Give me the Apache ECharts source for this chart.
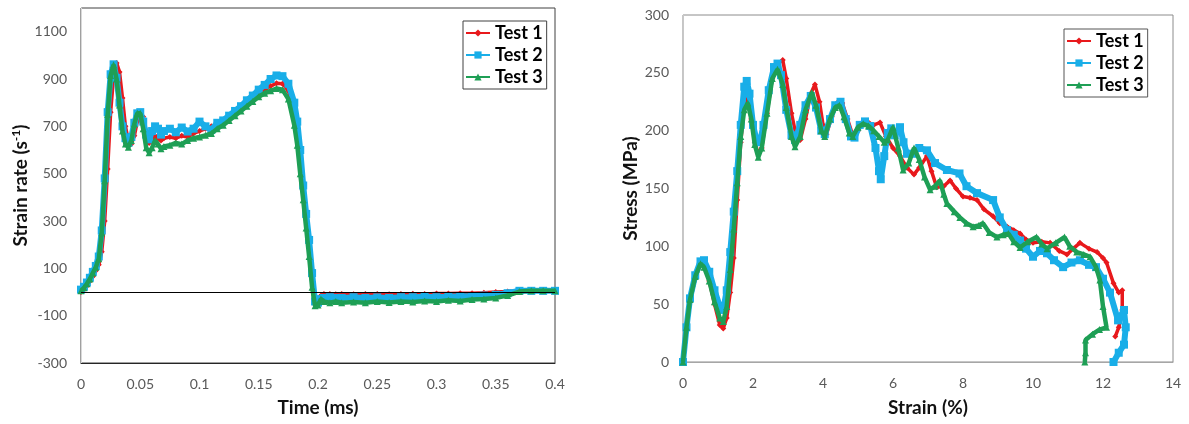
<!DOCTYPE html>
<html><head><meta charset="utf-8">
<script src="https://cdn.jsdelivr.net/npm/echarts@6/dist/echarts.min.js"></script>
<style>html,body{margin:0;padding:0;background:#fff}#c{width:1189px;height:424px}</style>
</head><body><div id="c"></div>
<script>
// ---- Left chart: strain rate vs time ----
const timeMs = [0,0.0025,0.005,0.0075,0.01,0.0125,0.015,0.0175,0.02,0.0225,0.025,0.0275,0.03,0.0325,0.035,0.0375,0.04,0.0425,0.045,0.0475,0.05,0.0525,0.055,0.0575,0.06,0.0625,0.065,0.0675,0.07,0.075,0.08,0.085,0.09,0.095,0.1,0.105,0.11,0.115,0.12,0.125,0.13,0.135,0.14,0.145,0.15,0.155,0.16,0.165,0.17,0.175,0.18,0.1825,0.185,0.1875,0.19,0.1925,0.195,0.1975,0.2,0.2025,0.205,0.21,0.215,0.22,0.23,0.24,0.25,0.26,0.27,0.28,0.29,0.3,0.31,0.32,0.33,0.34,0.35,0.36,0.37,0.38,0.39,0.4];
const rate1 = [0,10,25,45,65,90,115,170,300,520,760,910,968,930,820,700,640,625,660,720,750,740,680,630,640,660,650,640,650,655,650,660,655,670,680,690,700,710,725,740,760,780,800,820,840,855,870,882,880,850,760,660,540,430,310,200,70,-25,-50,-15,-8,-8,-10,-8,-10,-8,-8,-10,-8,-7,-8,-6,-6,-5,-5,-3,0,2,5,5,5,5];
const rate2 = [10,22,40,60,85,110,150,260,480,760,920,962,905,800,700,650,630,655,715,755,760,720,665,645,680,700,690,665,680,690,675,695,678,690,720,700,685,715,725,745,765,785,810,830,855,875,900,915,912,880,800,720,600,450,330,220,80,-40,-45,-30,-25,-22,-25,-25,-22,-25,-23,-25,-22,-22,-20,-22,-20,-18,-18,-15,-12,-5,5,5,5,5];
const rate3 = [5,18,35,55,80,105,140,250,470,750,915,960,900,790,680,625,612,640,710,755,755,690,610,588,610,640,625,605,615,620,630,625,640,650,655,662,670,690,705,725,745,765,785,805,825,840,850,860,855,815,705,620,500,390,270,150,20,-58,-55,-30,-40,-45,-40,-45,-42,-45,-40,-44,-40,-42,-38,-40,-35,-38,-32,-30,-25,-15,2,5,5,5];

// ---- Right chart: stress vs strain ----
const strain1 = [0,0.1,0.2,0.35,0.5,0.6,0.75,0.9,1.05,1.15,1.25,1.35,1.45,1.55,1.65,1.75,1.85,1.95,2.05,2.15,2.25,2.4,2.55,2.7,2.85,2.95,3.1,3.25,3.35,3.5,3.65,3.77,3.9,4.0,4.1,4.25,4.4,4.55,4.7,4.85,5.0,5.15,5.3,5.45,5.63,5.8,6.0,6.2,6.4,6.6,6.75,6.97,7.1,7.25,7.45,7.63,7.8,8.0,8.2,8.4,8.6,8.86,9.05,9.26,9.45,9.63,9.8,10.0,10.25,10.49,10.75,10.97,11.15,11.34,11.6,11.83,12.0,12.1,12.3,12.45,12.55,12.55,12.45,12.35];
const stress1 = [0,28,52,72,85,84,70,50,32,29,38,60,90,140,190,222,230,210,190,180,185,215,245,258,261,245,215,193,192,210,232,240,225,205,197,212,224,224,210,196,200,207,207,205,207,195,185,178,168,162,168,178,165,151,152,157,150,143,142,140,132,126,120,117,114,111,106,103,104,103,96,93,98,103,98,95,90,86,68,60,62,45,30,22];
const strain2 = [0,0.1,0.2,0.35,0.5,0.6,0.75,0.9,1.05,1.15,1.25,1.35,1.45,1.55,1.65,1.75,1.82,1.9,2.0,2.1,2.2,2.3,2.45,2.6,2.7,2.8,2.95,3.1,3.2,3.35,3.5,3.65,3.8,3.95,4.05,4.2,4.35,4.5,4.65,4.8,4.9,5.05,5.2,5.35,5.5,5.6,5.65,5.75,5.85,5.95,6.05,6.2,6.3,6.4,6.55,6.75,6.97,7.2,7.54,7.9,8.1,8.4,8.86,9.05,9.26,9.45,9.63,9.8,10.0,10.2,10.4,10.6,10.86,11.1,11.34,11.6,11.8,12.0,12.2,12.43,12.6,12.65,12.6,12.45,12.3];
const stress2 = [0,30,55,75,87,88,78,62,48,45,62,95,130,165,205,238,243,232,205,192,190,205,235,255,258,248,218,196,192,205,222,230,220,200,197,210,222,225,210,195,194,205,208,204,185,165,158,178,198,202,196,203,190,180,180,185,183,172,166,163,152,146,140,125,114,110,105,98,91,96,94,88,82,86,88,84,82,72,60,36,45,30,15,8,0];
const strain3 = [0,0.1,0.2,0.35,0.5,0.6,0.75,0.9,1.05,1.15,1.25,1.35,1.45,1.55,1.65,1.75,1.85,1.95,2.05,2.15,2.25,2.4,2.55,2.7,2.85,2.95,3.1,3.2,3.35,3.5,3.68,3.8,3.95,4.05,4.2,4.35,4.47,4.6,4.75,4.85,5.0,5.15,5.3,5.45,5.6,5.75,5.85,6.0,6.15,6.29,6.45,6.6,6.75,6.9,7.06,7.2,7.34,7.45,7.54,7.75,7.91,8.1,8.29,8.45,8.57,8.75,8.97,9.15,9.3,9.45,9.63,9.85,10.1,10.25,10.4,10.65,10.9,11.05,11.25,11.45,11.63,11.8,11.91,12.0,12.1,11.9,11.7,11.5,11.5,11.48];
const stress3 = [0,30,54,74,85,82,70,52,38,35,48,80,115,155,195,218,224,210,188,177,185,215,245,253,240,220,195,186,195,218,233,222,200,195,210,220,222,212,198,195,203,206,204,200,195,190,192,203,185,166,172,185,175,160,149,152,157,145,137,130,125,120,117,118,120,112,108,110,111,104,99,104,108,102,98,103,108,100,95,93,91,82,71,48,30,28,24,19,8,0];

const seriesNames = ['Test 1','Test 2','Test 3'];

const FONT = 'Lato, "Open Sans", sans-serif';
const C1 = '#e8191c', C2 = '#19aee8', C3 = '#1e9f55';
const styles = [
  {color:C1, symbol:'diamond', symbolSize:6, width:3.5},
  {color:C2, symbol:'rect', symbolSize:8, width:6},
  {color:C3, symbol:'triangle', symbolSize:7, width:4.5}
];
function pairs(xs, ys){ return xs.map((x,i)=>[x, ys[i]]); }

const leftData = [pairs(timeMs, rate1), pairs(timeMs, rate2), pairs(timeMs, rate3)];
const rightData = [pairs(strain1, stress1), pairs(strain2, stress2), pairs(strain3, stress3)];

const series = [];
[leftData, rightData].forEach((set, gi) => {
  set.forEach((d, i) => {
    const s = styles[i];
    const ser = {
      name: seriesNames[i], type:'line', xAxisIndex:gi, yAxisIndex:gi, data:d,
      symbol:s.symbol, symbolSize:s.symbolSize, showSymbol:true, showAllSymbol:true,
      itemStyle:{color:s.color}, lineStyle:{color:s.color, width:s.width},
      animation:false, z: 2 + i
    };
    if (gi === 0 && i === 0) {
      ser.markLine = {silent:true, symbol:'none', animation:false,
        label:{show:false}, lineStyle:{color:'#000', type:'solid', width:1},
        data:[{yAxis:0}]};
    }
    series.push(ser);
  });
});

const plain = v => String(v);
const tickLabel = {color:'#595959', fontSize:14, fontFamily:FONT, margin:14, formatter:plain};
const nameStyle = {color:'#111', fontSize:19, fontWeight:'bold', fontFamily:FONT};
const legendText = {color:'#000', fontSize:18, fontWeight:'bold', fontFamily:FONT};

const option = {
  animation:false,
  grid:[
    {left:81, top:8, width:474, height:355, show:true, borderColor:'#404040', borderWidth:1, containLabel:false},
    {left:683, top:15, width:490, height:347, show:true, borderColor:'#8c8c8c', borderWidth:1, containLabel:false}
  ],
  legend:[
    {data:seriesNames, orient:'vertical', left:463, top:21, itemWidth:24, itemHeight:9, itemGap:4,
     padding:[3,4,3,2], borderColor:'#404040', borderWidth:1, backgroundColor:'#fff', textStyle:legendText, selectedMode:false},
    {data:seriesNames, orient:'vertical', left:1064, top:29, itemWidth:24, itemHeight:9, itemGap:4,
     padding:[3,4,3,2], borderColor:'#555', borderWidth:1, backgroundColor:'#fff', textStyle:legendText, selectedMode:false}
  ],
  xAxis:[
    {gridIndex:0, type:'value', min:0, max:0.4, interval:0.05,
     name:'Time (ms)', nameLocation:'middle', nameGap:35, nameTextStyle:nameStyle,
     axisLine:{onZero:false, lineStyle:{color:'#262626'}}, axisTick:{show:false}, splitLine:{show:false}, axisLabel:tickLabel},
    {gridIndex:1, type:'value', min:0, max:14, interval:2,
     name:'Strain (%)', nameLocation:'middle', nameGap:36, nameTextStyle:nameStyle,
     axisLine:{onZero:false, lineStyle:{color:'#a6a6a6'}}, axisTick:{show:false}, splitLine:{show:false}, axisLabel:tickLabel}
  ],
  yAxis:[
    {gridIndex:0, type:'value', min:-300, max:1200, interval:200,
     name:'Strain rate (s{sup|-1})', nameLocation:'middle', nameGap:50,
     nameTextStyle:Object.assign({}, nameStyle, {rich:{sup:{fontSize:12, fontWeight:'bold', fontFamily:FONT, color:'#111', verticalAlign:'top', padding:[0,0,9,0]}}}),
     axisLine:{show:true, onZero:false, lineStyle:{color:'#d9d9d9'}}, axisTick:{show:false}, splitLine:{show:false},
     axisLabel:Object.assign({}, tickLabel, {showMaxLabel:false})},
    {gridIndex:1, type:'value', min:0, max:300, interval:50,
     name:'Stress (MPa)', nameLocation:'middle', nameGap:42, nameTextStyle:nameStyle,
     axisLine:{show:true, onZero:false, lineStyle:{color:'#c8c8c8'}}, axisTick:{show:false}, splitLine:{show:false}, axisLabel:tickLabel}
  ],
  series: series
};
const chart = echarts.init(document.getElementById('c'), null, {renderer:'canvas'});
chart.setOption(option);
</script>
</body></html>
